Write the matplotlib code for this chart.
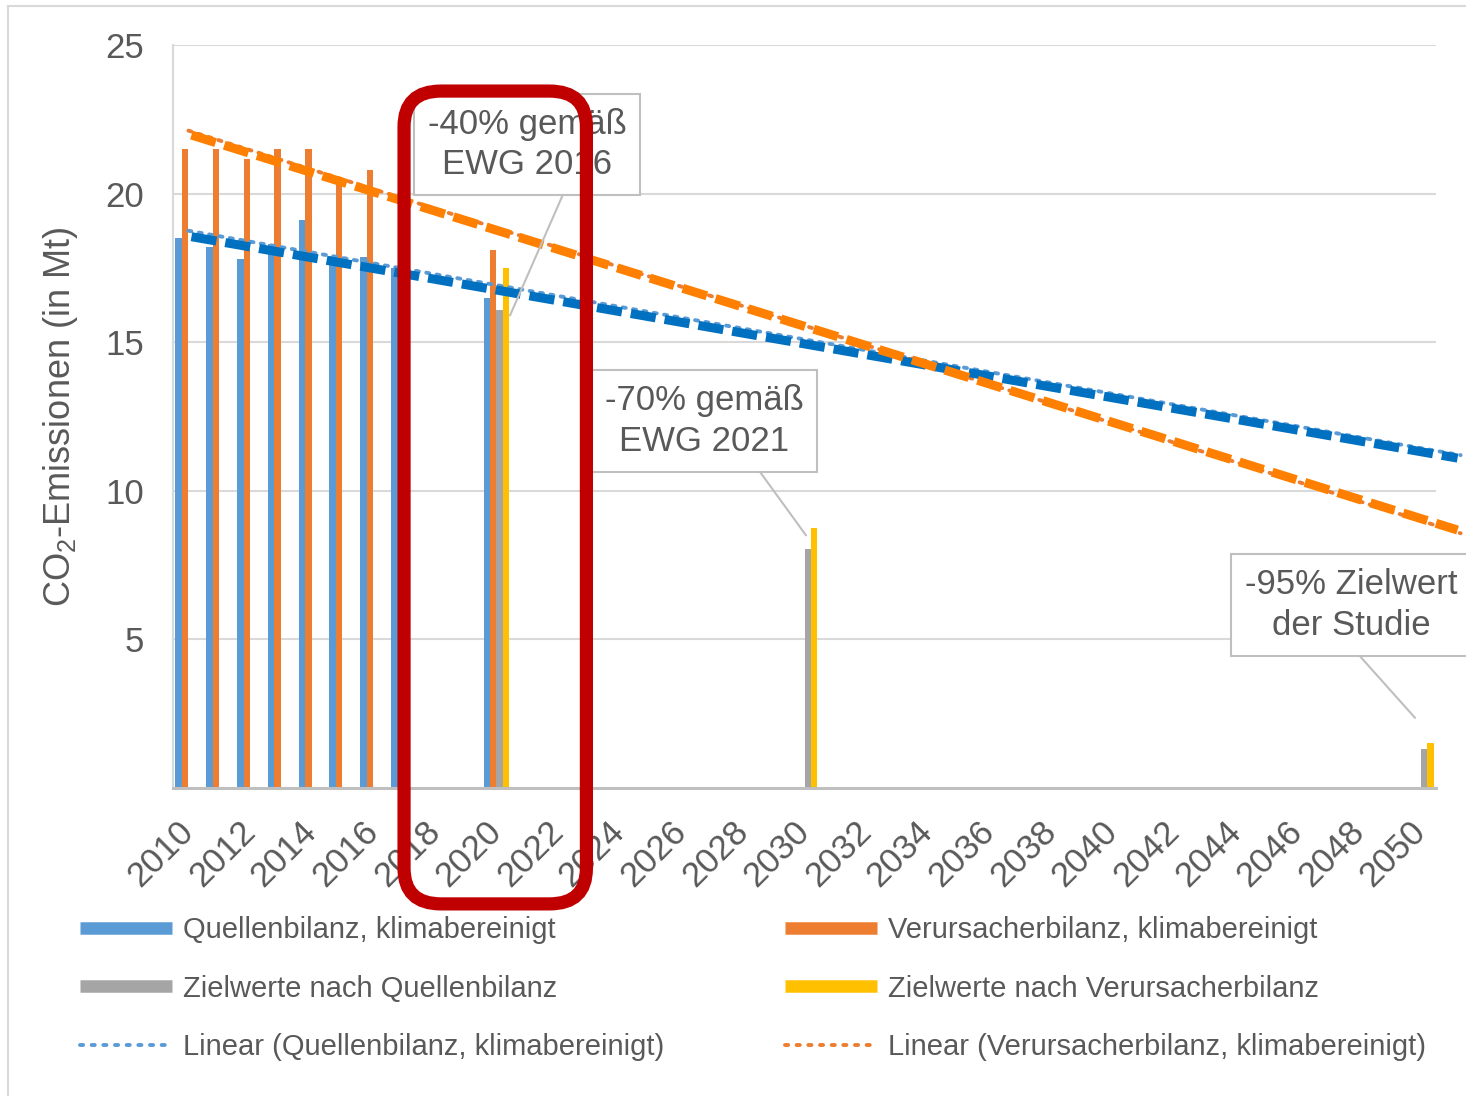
import numpy as np
import matplotlib.pyplot as plt
from matplotlib.lines import Line2D
from matplotlib.patches import FancyBboxPatch

plt.rcParams['font.family'] = ['Liberation Sans', 'DejaVu Sans']

# Jahre / Kategorien
years = list(range(2010, 2051))
tick_years = years[::2]

# Emissionen in Mt CO2
ist_years = [2010, 2011, 2012, 2013, 2014, 2015, 2016, 2017, 2020]
quellen = [18.5, 18.2, 17.8, 18.3, 19.1, 17.9, 17.85, 17.5, 16.5]
verursacher = [21.5, 21.5, 21.15, 21.5, 21.5, 20.3, 20.8, 20.5, 18.1]
ziel_years = [2020, 2030, 2050]
ziel_quellen = [16.1, 8.05, 1.3]
ziel_verursacher = [17.5, 8.75, 1.5]

# Excel-Trendlinien (Endpunkte)
trend_years = [2010, 2051.3]
trend_quellen = [18.75, 11.2]
trend_verursacher = [22.12, 8.57]
# nachtraeglich eingezeichnete dicke Linien
hand_years = [2010.1, 2051.2]
hand_quellen = [18.55, 11.10]
hand_verursacher = [21.97, 8.68]

c_blue, c_orange, c_gray, c_yellow = '#5B9BD5', '#ED7D31', '#A5A5A5', '#FFC000'
c_text = '#595959'

fig = plt.figure(figsize=(14.66, 10.96), dpi=100)
ax = fig.add_axes([173/1466, 1-788/1096, 1263/1466, 743/1096])

def idx(ys):
    return np.array(ys, dtype=float) - 2010

w = 0.21
ax.bar(idx(ist_years) - 1.5*w, quellen, w, color=c_blue, zorder=2)
ax.bar(idx(ist_years) - 0.5*w, verursacher, w, color=c_orange, zorder=2)
ax.bar(idx(ziel_years) + 0.5*w, ziel_quellen, w, color=c_gray, zorder=2)
ax.bar(idx(ziel_years) + 1.5*w, ziel_verursacher, w, color=c_yellow, zorder=2)

# Trendlinien
ax.plot(idx(trend_years), trend_quellen, color=c_blue, lw=2.8, ls=(0, (0.8, 1.9)),
        dash_capstyle='round', clip_on=False, zorder=3)
ax.plot(idx(trend_years), trend_verursacher, color=c_orange, lw=2.8, ls=(0, (0.8, 1.9)),
        dash_capstyle='round', clip_on=False, zorder=3)
ax.plot(idx(hand_years), hand_quellen, color='#0070C0', lw=6.5, ls=(0, (2.8, 1.0)),
        clip_on=False, zorder=4)
ax.plot(idx(hand_years), hand_verursacher, color='#FF8000', lw=6.5, ls=(0, (2.8, 1.0)),
        clip_on=False, zorder=4)

ax.set_xlim(-0.5, 40.5)
ax.set_ylim(0, 25)
ax.set_xticks(idx(tick_years))
ax.set_xticklabels([str(y) for y in tick_years], rotation=45, ha='right', va='center',
                   rotation_mode='anchor')
ax.set_yticks([5, 10, 15, 20, 25])
ax.tick_params(axis='x', length=0, pad=28, labelsize=25, labelcolor=c_text)
ax.tick_params(axis='y', length=0, pad=21, labelsize=25, labelcolor=c_text)
ax.yaxis.grid(True, color='#D9D9D9', lw=1.5)
ax.set_axisbelow(True)
for s in ['top', 'right']:
    ax.spines[s].set_visible(False)
ax.spines['left'].set_color('#D9D9D9')
ax.spines['left'].set_linewidth(1.5)
ax.spines['bottom'].set_color('#BFBFBF')
ax.spines['bottom'].set_linewidth(2.2)

ax.set_ylabel('CO$_\\mathregular{2}$-Emissionen (in Mt)', fontsize=26, color=c_text)
ax.yaxis.set_label_coords(-0.074, 0.5)

# Beschriftungen
def note(text, xy, xytext, relx):
    ax.annotate(text, xy=xy, xytext=xytext, ha='center', va='center',
                fontsize=25, color=c_text, linespacing=1.3,
                bbox=dict(boxstyle='square,pad=0.4', fc='white', ec='#BFBFBF', lw=1.5),
                arrowprops=dict(arrowstyle='-', color='#BFBFBF', lw=1.5,
                                relpos=(relx, 0), shrinkA=0, shrinkB=0),
                annotation_clip=False, zorder=6)

note('-40% gemäß\nEWG 2016', (10.44, 15.9), (10.99, 21.65), 0.71)
note('-70% gemäß\nEWG 2021', (20.05, 8.5), (16.74, 12.35), 0.73)
note('-95% Zielwert\nder Studie', (39.82, 2.36), (37.76, 6.15), 0.48)

# rote Markierung
ax.add_patch(FancyBboxPatch((7.0, -3.9), 5.92, 27.35,
                            boxstyle='round,pad=0,rounding_size=1.2',
                            ec='#C00000', fc='none', lw=9.5, clip_on=False, zorder=10))

# Legende
h_left = [Line2D([], [], color=c_blue, lw=9, solid_capstyle='butt'),
          Line2D([], [], color=c_gray, lw=9, solid_capstyle='butt'),
          Line2D([], [], color=c_blue, lw=2.8, ls=(0, (0.8, 2.2)), dash_capstyle='round')]
h_right = [Line2D([], [], color=c_orange, lw=9, solid_capstyle='butt'),
           Line2D([], [], color=c_yellow, lw=9, solid_capstyle='butt'),
           Line2D([], [], color=c_orange, lw=2.8, ls=(0, (0.8, 2.2)), dash_capstyle='round')]
l_left = ['Quellenbilanz, klimabereinigt', 'Zielwerte nach Quellenbilanz',
          'Linear (Quellenbilanz, klimabereinigt)']
l_right = ['Verursacherbilanz, klimabereinigt', 'Zielwerte nach Verursacherbilanz',
           'Linear (Verursacherbilanz, klimabereinigt)']
for h, l, x0 in [(h_left, l_left, 80), (h_right, l_right, 785)]:
    fig.legend(h, l, loc='upper left', bbox_to_anchor=(x0/1466, 1-916/1096),
               frameon=False, fontsize=21, handlelength=3.15, handletextpad=0.38,
               labelspacing=1.05, borderpad=0, borderaxespad=0, labelcolor=c_text)

# Rahmen des Diagrammbereichs
fig.add_artist(Line2D([8/1466, 8/1466], [0, 1-6/1096], color='#D9D9D9', lw=1.5))
fig.add_artist(Line2D([8/1466, 1], [1-6/1096, 1-6/1096], color='#D9D9D9', lw=1.5))

fig.savefig('out.png', dpi=100)
